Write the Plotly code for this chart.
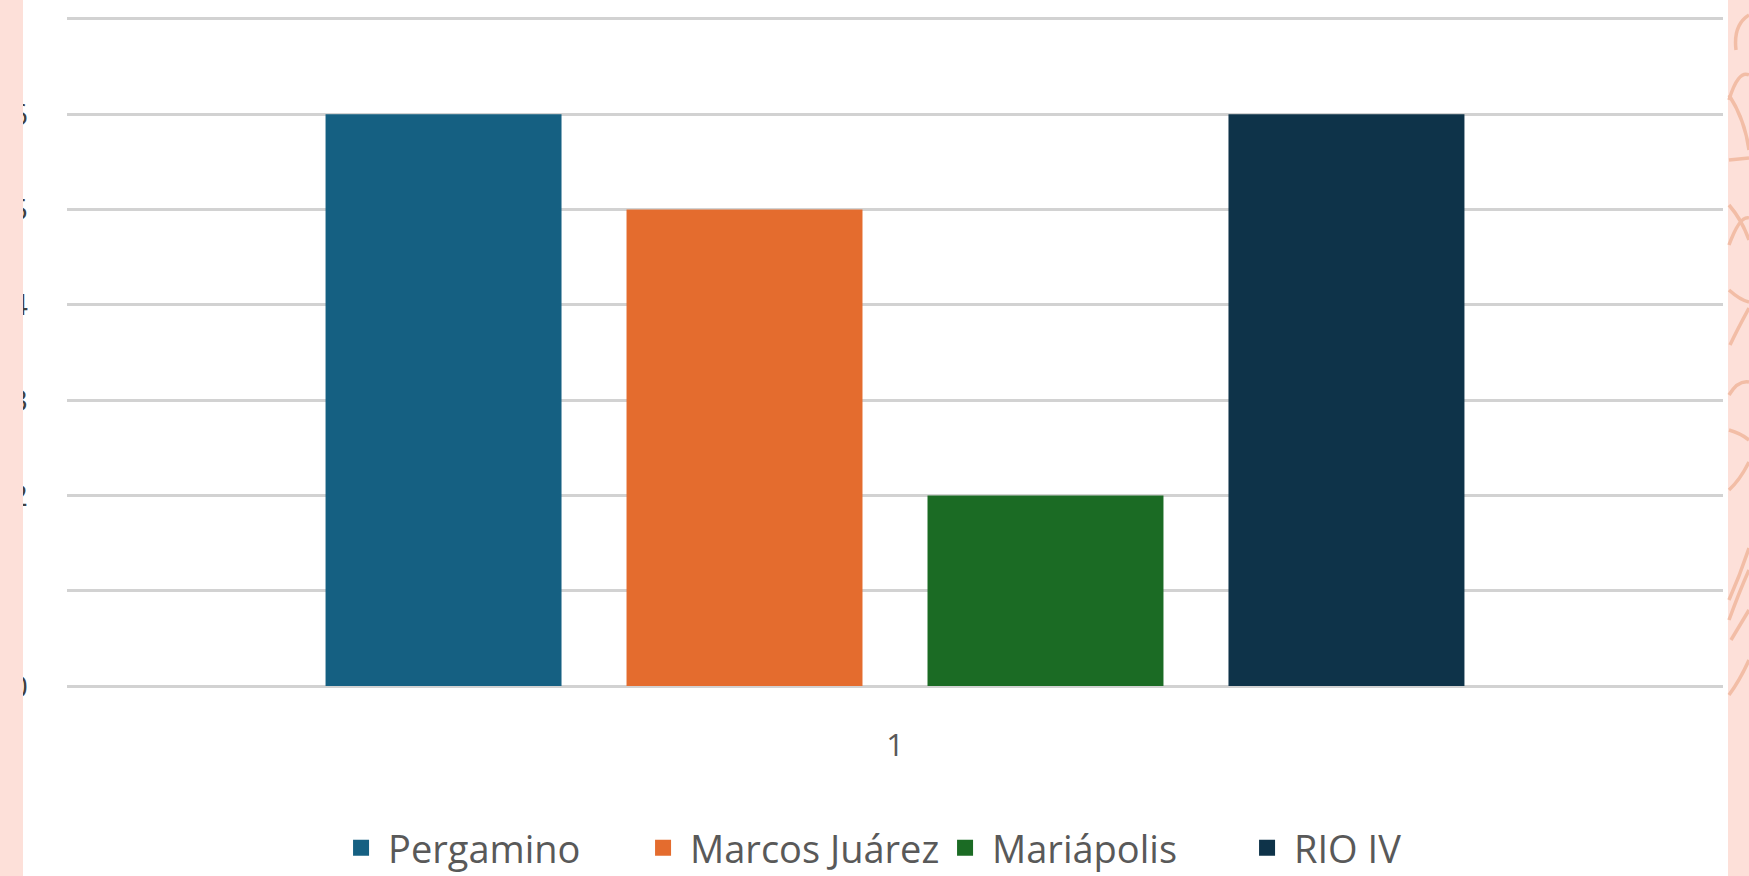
import plotly.graph_objects as go

# ---- data ----
categories = ["1"]
series_names = ["Pergamino", "Marcos Juárez", "Mariápolis", "RIO IV"]
pergamino = [6]
marcos_juarez = [5]
mariapolis = [2]
rio_iv = [6]
y_ticks = [0, 1, 2, 3, 4, 5, 6, 7]
y_max = 7.04

series_values = [pergamino, marcos_juarez, mariapolis, rio_iv]
colors = ["#156082", "#E46C2E", "#1B6B24", "#0E3349"]

W, H = 1749, 876
ML, MR, MB = 67, 26, 190
UNIT = (686 - 19) / 7.0
MT = int(round(19 - (y_max - 7) * UNIT))
PW = W - ML - MR
PH = H - MT - MB


def px(xp):
    return (xp - ML) / PW


def py(yp):
    return (H - MB - yp) / PH


fig = go.Figure()
for name, vals, col in zip(series_names, series_values, colors):
    fig.add_trace(go.Bar(x=categories, y=vals, name=name, showlegend=False,
                         marker=dict(color=col, line=dict(width=0))))
# legend entries with larger square swatches
for name, col in zip(series_names, colors):
    fig.add_trace(go.Scatter(x=[None], y=[None], mode="markers", name=name,
                             marker=dict(symbol="square", size=24, color=col)))

shapes = []
pink = "#FDE0D9"
deco = "#F2BDA6"
shapes.append(dict(type="rect", xref="paper", yref="paper", x0=px(-5), x1=px(23), y0=py(H + 5), y1=py(-5),
                   fillcolor=pink, line=dict(width=0), layer="above"))
shapes.append(dict(type="rect", xref="paper", yref="paper", x0=px(1728), x1=px(W + 5), y0=py(H + 5), y1=py(-5),
                   fillcolor=pink, line=dict(width=0), layer="above"))


def path(points_cmd):
    out = []
    for tok in points_cmd:
        if isinstance(tok, str):
            out.append(tok)
        else:
            out.append(f"{px(tok[0]):.5f},{py(tok[1]):.5f}")
    return " ".join(out)


deco_paths = [
    ["M", (1749, 15), "Q", (1733, 25), (1736, 50)],
    ["M", (1729, 100), "Q", (1738, 70), (1749, 75)],
    ["M", (1729, 160), "L", (1749, 158)],
    ["M", (1729, 95), "Q", (1745, 120), (1749, 150)],
    ["M", (1729, 245), "Q", (1740, 215), (1749, 218)],
    ["M", (1729, 205), "Q", (1742, 220), (1749, 240)],
    ["M", (1729, 290), "Q", (1740, 300), (1749, 302)],
    ["M", (1749, 308), "Q", (1737, 330), (1730, 345)],
    ["M", (1729, 395), "Q", (1738, 380), (1749, 382)],
    ["M", (1729, 430), "Q", (1740, 433), (1749, 440)],
    ["M", (1729, 490), "Q", (1740, 480), (1749, 462)],
    ["M", (1729, 600), "Q", (1740, 575), (1749, 548)],
    ["M", (1729, 620), "Q", (1740, 590), (1749, 570)],
    ["M", (1731, 640), "L", (1749, 610)],
    ["M", (1729, 695), "Q", (1740, 680), (1749, 660)],
]
for dp in deco_paths:
    shapes.append(dict(type="path", xref="paper", yref="paper", path=path(dp),
                       line=dict(color=deco, width=3.5), layer="above"))

fig.update_layout(
    width=W, height=H,
    margin=dict(l=ML, r=MR, t=MT, b=MB, pad=0, autoexpand=False),
    paper_bgcolor="white", plot_bgcolor="white",
    barmode="group", bargap=0.273, bargroupgap=0.216,
    font=dict(family="Open Sans", color="#595959", size=30),
    showlegend=True,
    legend=dict(orientation="h", x=0.526, xanchor="center", y=py(848), yanchor="middle",
                font=dict(size=38, color="#595959"), itemwidth=44, traceorder="normal",
                itemsizing="trace", entrywidth=243, entrywidthmode="pixels"),
    shapes=shapes,
)
fig.update_xaxes(type="category", range=[-0.5, 0.5], showgrid=False, zeroline=False, showline=False,
                 automargin=False, ticks="", tickfont=dict(size=31, color="#595959"), ticklabelstandoff=38)
fig.update_yaxes(range=[0, y_max], tickvals=y_ticks, showgrid=True, gridcolor="#D2D2D2", gridwidth=2.5,
                 zeroline=True, zerolinecolor="#D2D2D2", zerolinewidth=2.5, showline=False, ticks="",
                 automargin=False, tickfont=dict(size=30, color="#404040"), ticklabelstandoff=38)

fig.write_html("out.html", config={"displayModeBar": False},
               post_script="document.body.style.margin='0';document.body.style.overflow='hidden';")
